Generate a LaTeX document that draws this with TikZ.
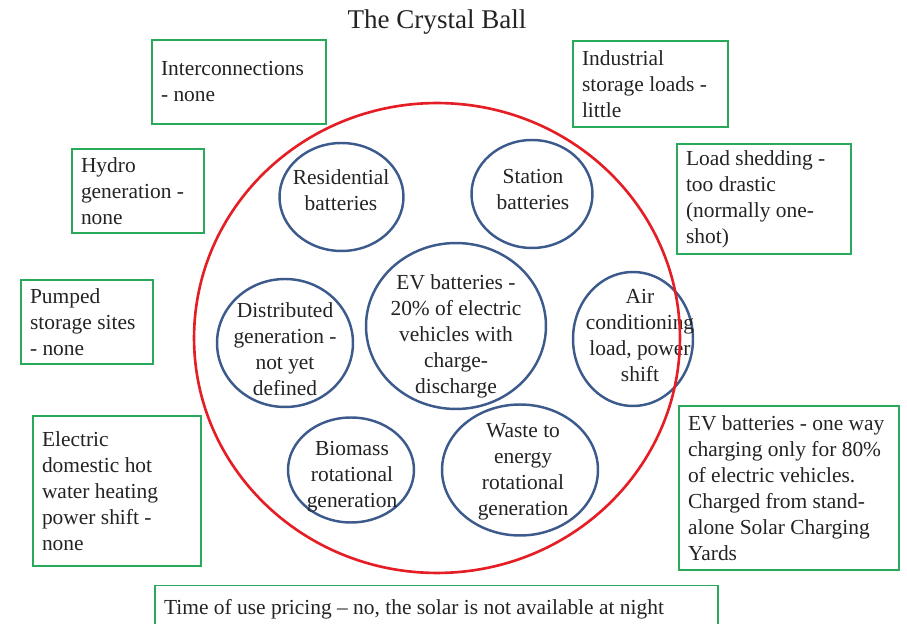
\documentclass[tikz,border=0pt]{standalone}
\usepackage{fontspec}
\setmainfont{Liberation Serif}
\usetikzlibrary{shapes.geometric}

\definecolor{boxgreen}{RGB}{40,170,90}
\definecolor{ballred}{RGB}{228,30,36}
\definecolor{bubbleblue}{RGB}{60,90,140}
\definecolor{ink}{RGB}{35,35,35}

\tikzset{
  note/.style={draw=boxgreen, line width=1.1pt, inner xsep=0.18cm, inner ysep=0pt, align=flush left, text=ink, font=\fontsize{12.2}{14.8}\selectfont},
  bubble/.style={draw=bubbleblue, line width=1.4pt, ellipse, inner sep=0pt},
  bubbletext/.style={align=flush center, text=ink, font=\fontsize{12.2}{14.8}\selectfont, inner sep=0pt},
  ball/.style={draw=ballred, line width=1.5pt, ellipse, inner sep=0pt},
}

\begin{document}
\begin{tikzpicture}[x=0.02cm, y=-0.02cm]
\useasboundingbox (0,0) rectangle (907,624);
\clip (0,0) rectangle (907,624);

\node[text=ink, font=\fontsize{15.4}{18}\selectfont] (title) at (437,22) {The Crystal Ball};

% green notes round the ball
\node[note, text width=3.12cm, minimum height=1.68cm] (intercon) at (239,82) {Interconnections\\- none};
\node[note, text width=2.74cm, minimum height=1.72cm] (industrial) at (650.5,84) {Industrial\\storage loads -\\little};
\node[note, text width=2.28cm, minimum height=1.68cm] (hydro) at (138,191) {Hydro\\generation -\\none};
\node[note, text width=3.12cm, minimum height=2.2cm] (shedding) at (764,199) {Load shedding -\\too drastic\\(normally one-\\shot)};
\node[note, text width=2.28cm, minimum height=1.68cm] (pumped) at (87,322) {Pumped\\storage sites\\- none};
\node[note, text width=3.0cm, minimum height=3.0cm] (hotwater) at (117,491) {Electric\\domestic hot\\water heating\\power shift -\\none};
\node[note, text width=4.04cm, minimum height=3.28cm] (evoneway) at (789,488) {EV batteries - one way\\charging only for 80\%\\of electric vehicles.\\Charged from stand-\\alone Solar Charging\\Yards};
\node[note, text width=10.9cm, minimum height=0.94cm] (touprice) at (436.5,609) {Time of use pricing -- no, the solar is not available at night};

% blue bubbles
\node[bubble, minimum width=2.48cm, minimum height=2.16cm] (resid) at (341.5,197) {};
\node[bubble, minimum width=2.42cm, minimum height=2.16cm] (station) at (532,194) {};
\node[bubble, minimum width=3.6cm, minimum height=3.32cm] (evbatt) at (456,326) {};
\node[bubble, minimum width=2.72cm, minimum height=2.56cm] (distgen) at (285,343) {};
\node[bubble, minimum width=2.4cm, minimum height=2.68cm] (aircon) at (633,339) {};
\node[bubble, minimum width=2.52cm, minimum height=2.1cm] (biomass) at (351,470) {};
\node[bubble, minimum width=3.12cm, minimum height=2.62cm] (waste) at (520,470) {};

\node[bubbletext] (residT) at (341,190) {Residential\\batteries};
\node[bubbletext] (stationT) at (533,190) {Station\\batteries};
\node[bubbletext] (evbattT) at (456,336) {EV batteries -\\20\% of electric\\vehicles with\\charge-\\discharge};
\node[bubbletext] (distgenT) at (285,349) {Distributed\\generation -\\not yet\\defined};
\node[bubbletext] (airconT) at (640,336) {Air\\conditioning\\load, power\\shift};
\node[bubbletext] (biomassT) at (352,477) {Biomass\\rotational\\generation};
\node[bubbletext] (wasteT) at (523,472) {Waste to\\energy\\rotational\\generation};

% the ball itself
\node[ball, minimum width=9.72cm, minimum height=9.4cm] (crystal) at (437,338) {};
\end{tikzpicture}
\end{document}
